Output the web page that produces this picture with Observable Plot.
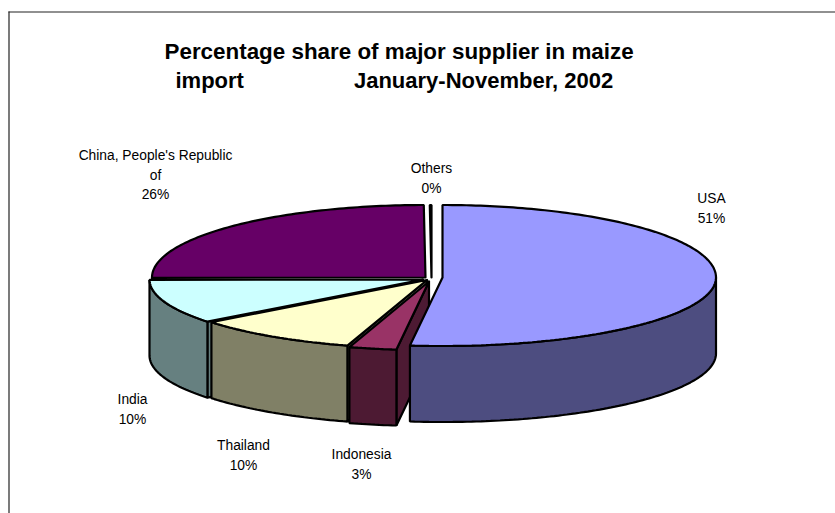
<!DOCTYPE html>
<html><head><meta charset="utf-8">
<script src="https://cdn.jsdelivr.net/npm/d3@7"></script>
<script src="https://cdn.jsdelivr.net/npm/@observablehq/plot@0.6"></script>
<style>html,body{margin:0;padding:0;background:#fff}svg{display:block}</style>
</head><body><div id="chart"></div>
<script>
// Data
const suppliers = ["USA", "Indonesia", "Thailand", "India", "China, People's Republic of", "Others"];
const shares = [51.9, 2.8, 9.75, 10.45, 25.0, 0.1];      // slice sizes as drawn
const shownPercent = ["51%", "3%", "10%", "10%", "26%", "0%"]; // printed labels
const titleLines = ["Percentage share of major supplier in maize",
  "import" + "\u00A0".repeat(18) + "January-November, 2002"];
const topColors = ["#9999FF", "#993366", "#FFFFCC", "#CCFFFF", "#660066", "#FFFFFF"];
const sideColors = ["#4D4D80", "#4D1A33", "#808066", "#668080", "#330033", "#808080"];

// Layout
const W = 835, H = 513, cx = 427, cy = 278.5, rx = 273.5, ry = 72.5, depth = 76 / ry, frontK = 0.945;
const shiftX = [15, 1.5, -0.5, -4.5, -2, 4], shiftY = [-1.5, 2.5, 1, 0.5, -1.5, -1.5];
const labelLines = [["USA"], ["Indonesia"], ["Thailand"], ["India"], ["China, People's Republic", "of"], ["Others"]];
const labelPx = [[711, 198], [361, 454], [243, 445], [132, 399], [155, 155], [431, 168]];
const lineGap = 19.6;

const toX = px => (px - cx) / rx, toY = py => (py - cy) / ry;
const rad = d => d * Math.PI / 180;
const rim = (c, t, dz = 0) => {
  const k = Math.cos(rad(t));
  return {x: c.x + Math.sin(rad(t)), y: c.y - k * (k < 0 ? frontK : 1) + dz};
};
const arc = (c, a, b, dz = 0) => {
  const n = Math.max(2, Math.ceil(Math.abs(b - a)));
  return d3.range(n + 1).map(i => rim(c, a + (b - a) * i / n, dz));
};

const total = d3.sum(shares);
let acc = 0;
const slices = shares.map((s, i) => {
  const a = acc; acc += s / total * 360;
  return {i, a, b: acc, c: {x: shiftX[i] / rx, y: shiftY[i] / ry}};
});

const poly = (pts, fill, sw = 2.2) => Plot.line([...pts, pts[0]], {
  x: "x", y: "y", fill, stroke: "#000", strokeWidth: sw, strokeLinejoin: "miter", curve: "linear"
});

const marks = [];
// frame of the chart area
marks.push(Plot.ruleX([toX(8.5)], {y1: toY(11.5), y2: toY(513), stroke: "#222", strokeWidth: 1.2}));
marks.push(Plot.ruleY([toY(11.5)], {x1: toX(8.5), x2: toX(835), stroke: "#222", strokeWidth: 1.2}));

// paint from the back to the front: China, Others, India, Thailand, Indonesia, USA
for (const i of [4, 5, 3, 2, 1, 0]) {
  const {a, b, c} = slices[i];
  if (a > 180 && a < 260) {
    const p = rim(c, a);
    marks.push(poly([p, c, {x: c.x, y: c.y + depth}, {x: p.x, y: p.y + depth}], sideColors[i]));
  }
  const fa = Math.max(a, 90), fb = Math.min(b, 270);
  if (fb > fa) marks.push(poly([...arc(c, fa, fb), ...arc(c, fb, fa, depth)], sideColors[i]));
  marks.push(poly([c, ...arc(c, a, b)], topColors[i]));
}

// data labels
const labelRows = slices.flatMap(({i}) => {
  const lines = [...labelLines[i], shownPercent[i]];
  return lines.map((text, k) => ({text, x: toX(labelPx[i][0]), y: toY(labelPx[i][1] + k * lineGap)}));
});
marks.push(Plot.text(labelRows, {x: "x", y: "y", text: "text", fontSize: 13.8, fill: "#000", lineAnchor: "middle", textAnchor: "middle"}));

// title
marks.push(Plot.text([titleLines[0]], {x: [toX(164)], y: [toY(51.5)], text: d => d, textAnchor: "start", lineAnchor: "middle", fontSize: 22.4, fontWeight: "bold", fill: "#000"}));
marks.push(Plot.text([titleLines[1]], {x: [toX(175)], y: [toY(80.5)], text: d => d, textAnchor: "start", lineAnchor: "middle", fontSize: 22, fontWeight: "bold", fill: "#000"}));

const chart = Plot.plot({
  width: W, height: H, margin: 0,
  x: {domain: [toX(0), toX(W)], range: [0, W], axis: null},
  y: {domain: [toY(0), toY(H)], range: [0, H], axis: null},
  style: {fontFamily: "'Liberation Sans', Arial, sans-serif", background: "#fff", overflow: "visible"},
  marks
});
document.getElementById("chart").append(chart);
</script></body></html>
